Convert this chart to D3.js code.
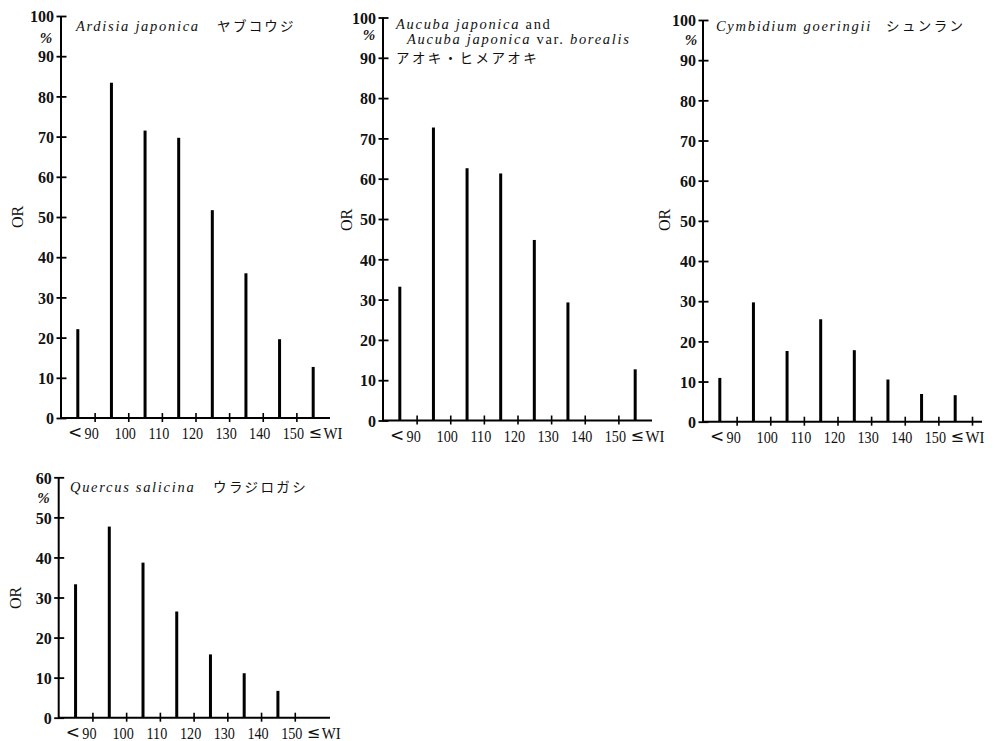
<!DOCTYPE html>
<html>
<head>
<meta charset="utf-8">
<script src="https://cdn.jsdelivr.net/npm/d3@7"></script>
<style>
  html, body { margin: 0; padding: 0; background: #fff; }
  svg { display: block; }
  .tick text { font-family: "Liberation Serif", "DejaVu Serif", serif; }
</style>
</head>
<body>
<div id="chart"></div>
<script>
// WI classes (class midpoints on the WI axis)
const wiClasses = ["<90", "90-100", "100-110", "110-120", "120-130", "130-140", "140-150", "150≤"];
const wiMidpoints = [85, 95, 105, 115, 125, 135, 145, 155];
const xTickValues = [90, 100, 110, 120, 130, 140, 150];

// OR (%) per class
const ardisiaValues = [22.1, 83.4, 71.5, 69.7, 51.7, 36.0, 19.6, 12.7];
const aucubaValues = [33.2, 72.7, 62.6, 61.3, 44.8, 29.3, 0, 12.7];
const cymbidiumValues = [10.9, 29.7, 17.6, 25.5, 17.8, 10.5, 6.9, 6.6];
const quercusValues = [33.3, 47.7, 38.7, 26.5, 15.8, 11.1, 6.7, 0];

const yTicks100 = [0, 10, 20, 30, 40, 50, 60, 70, 80, 90, 100];
const yTicks60 = [0, 10, 20, 30, 40, 50, 60];

const width = 995;
const height = 741;
const serif = '"Liberation Serif", "DejaVu Serif", serif';
const jp = '"Noto Sans CJK JP", sans-serif';

const svg = d3
  .select("#chart")
  .append("svg")
  .attr("width", width)
  .attr("height", height)
  .attr("viewBox", `0 0 ${width} ${height}`);

drawPanel({
  values: ardisiaValues,
  yMax: 100,
  yTicks: yTicks100,
  x0: 61, x160: 330, xEnd: 330,
  yBottom: 418, yTop: 16,
  orX: 18, orY: 217,
  pctX: 46, pctY: 43,
  title: [
    { x: 76, y: 30.5, parts: [{ t: "Ardisia japonica", italic: true }] },
    { x: 217, y: 31, jp: true, parts: [{ t: "ヤブコウジ" }] },
  ],
});

drawPanel({
  values: aucubaValues,
  yMax: 100,
  yTicks: yTicks100,
  x0: 383, x160: 652, xEnd: 652,
  yBottom: 420.5, yTop: 17.5,
  orX: 347, orY: 220,
  pctX: 369, pctY: 40,
  title: [
    { x: 396, y: 29, parts: [{ t: "Aucuba japonica", italic: true }, { t: " and" }] },
    { x: 407, y: 43.5, parts: [{ t: "Aucuba japonica", italic: true }, { t: " var. " }, { t: "borealis", italic: true }] },
    { x: 396, y: 63, jp: true, parts: [{ t: "アオキ・ヒメアオキ" }] },
  ],
});

drawPanel({
  values: cymbidiumValues,
  yMax: 100,
  yTicks: yTicks100,
  x0: 703, x160: 972, xEnd: 982,
  yBottom: 421.7, yTop: 20,
  orX: 665, orY: 220,
  pctX: 691, pctY: 45,
  tick160: true,
  title: [
    { x: 716, y: 30.5, parts: [{ t: "Cymbidium goeringii", italic: true }] },
    { x: 886, y: 31, jp: true, parts: [{ t: "シュンラン" }] },
  ],
});

drawPanel({
  values: quercusValues,
  yMax: 60,
  yTicks: yTicks60,
  x0: 58.7, x160: 328.5, xEnd: 330,
  yBottom: 717.7, yTop: 477.3,
  orX: 16, orY: 598,
  pctX: 43.5, pctY: 503,
  title: [
    { x: 70, y: 491.5, parts: [{ t: "Quercus salicina", italic: true }] },
    { x: 213, y: 492, jp: true, parts: [{ t: "ウラジロガシ" }] },
  ],
});

function drawPanel(cfg) {
  const xScale = d3.scaleLinear().domain([80, 160]).range([cfg.x0, cfg.x160]);
  const yScale = d3.scaleLinear().domain([0, cfg.yMax]).range([cfg.yBottom, cfg.yTop]);
  const g = svg.append("g");

  // y axis with crossing ticks
  const yAxis = d3
    .axisLeft(yScale)
    .tickValues(cfg.yTicks)
    .tickSize(4.5)
    .tickPadding(2.5)
    .tickFormat(d3.format("d"));
  const yG = g.append("g").attr("transform", `translate(${cfg.x0}, 0)`).call(yAxis);
  yG.select(".domain").remove();
  yG.selectAll(".tick line")
    .attr("x1", -4.5)
    .attr("x2", 5.5)
    .attr("stroke", "#000")
    .attr("stroke-width", 1.8);
  yG.selectAll(".tick text")
    .attr("font-size", 16)
    .attr("font-weight", "bold")
    .attr("fill", "#111")
    .attr("dy", "0.36em");

  g.append("line")
    .attr("x1", cfg.x0)
    .attr("x2", cfg.x0)
    .attr("y1", yScale(cfg.yMax))
    .attr("y2", yScale(0) + 1)
    .attr("stroke", "#000")
    .attr("stroke-width", 2);

  // x axis
  const xTicks = cfg.tick160 ? xTickValues.concat([160]) : xTickValues;
  const xAxis = d3.axisBottom(xScale).tickValues(xTicks).tickSize(4).tickFormat("");
  const xG = g.append("g").attr("transform", `translate(0, ${cfg.yBottom})`).call(xAxis);
  xG.select(".domain").remove();
  xG.selectAll(".tick line")
    .attr("y1", -5)
    .attr("y2", 4)
    .attr("stroke", "#000")
    .attr("stroke-width", 1.6);

  g.append("line")
    .attr("x1", cfg.x0)
    .attr("x2", cfg.xEnd)
    .attr("y1", cfg.yBottom)
    .attr("y2", cfg.yBottom)
    .attr("stroke", "#000")
    .attr("stroke-width", 2);

  const labelY = cfg.yBottom + 21;
  g.append("g")
    .selectAll("text")
    .data(xTickValues)
    .enter()
    .append("text")
    .attr("transform", (d) => `translate(${xScale(d) - 3}, ${labelY}) scale(0.86, 1)`)
    .attr("text-anchor", "middle")
    .attr("font-family", serif)
    .attr("font-size", 16.5)
    .attr("fill", "#111")
    .text((d) => d);

  g.append("text")
    .attr("x", xScale(90) - 12.5)
    .attr("y", labelY - 1)
    .attr("text-anchor", "end")
    .attr("font-family", '"DejaVu Sans", sans-serif')
    .attr("font-size", 17)
    .attr("fill", "#111")
    .text("<");

  g.append("text")
    .attr("x", xScale(150) + 12)
    .attr("y", labelY - 1)
    .attr("font-family", '"DejaVu Sans", sans-serif')
    .attr("font-size", 16)
    .attr("fill", "#111")
    .text("≤");

  g.append("text")
    .attr("transform", `translate(${xScale(150) + 27}, ${labelY}) scale(0.9, 1)`)
    .attr("font-family", serif)
    .attr("font-size", 16.5)
    .attr("fill", "#111")
    .text("WI");

  // bars
  const rows = wiMidpoints.map((m, i) => ({ cls: wiClasses[i], mid: m, value: cfg.values[i] }));
  g.append("g")
    .selectAll("rect")
    .data(rows.filter((r) => r.value > 0))
    .enter()
    .append("rect")
    .attr("x", (r) => xScale(r.mid) - 1.5)
    .attr("width", 3)
    .attr("y", (r) => yScale(r.value))
    .attr("height", (r) => yScale(0) - yScale(r.value))
    .attr("fill", "#000");

  // "%" and OR label
  g.append("text")
    .attr("x", cfg.pctX)
    .attr("y", cfg.pctY)
    .attr("text-anchor", "middle")
    .attr("font-family", serif)
    .attr("font-style", "italic")
    .attr("font-weight", "bold")
    .attr("font-size", 15)
    .attr("fill", "#111")
    .text("%");

  g.append("text")
    .attr("transform", `translate(${cfg.orX + 5}, ${cfg.orY}) rotate(-90)`)
    .attr("text-anchor", "middle")
    .attr("font-family", serif)
    .attr("font-size", 16)
    .attr("fill", "#111")
    .text("OR");

  // title
  cfg.title.forEach((line) => {
    const t = g.append("text")
      .attr("x", line.x)
      .attr("y", line.y)
      .attr("fill", "#111")
      .attr("font-family", line.jp ? jp : serif)
      .attr("font-size", line.jp ? 13.5 : 14.5)
      .attr("letter-spacing", line.jp ? 2.4 : 1.7);
    line.parts.forEach((p) => {
      t.append("tspan")
        .attr("font-style", p.italic ? "italic" : "normal")
        .text(p.t);
    });
  });
}
</script>
</body>
</html>
